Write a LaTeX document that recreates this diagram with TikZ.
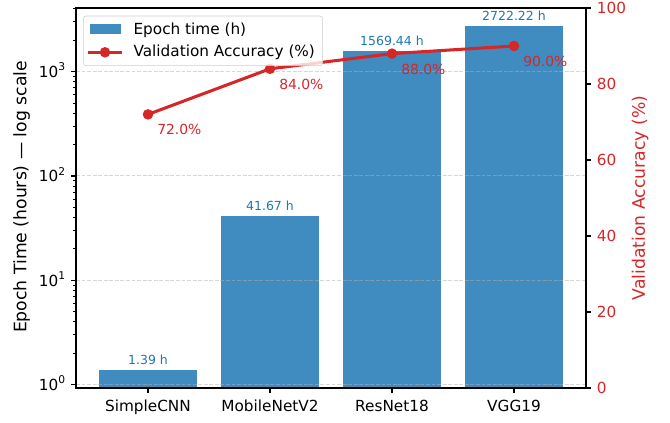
\documentclass[tikz,border=0pt]{standalone}
\usepackage{fontspec}
\setmainfont{DejaVu Sans}
\definecolor{barblue}{RGB}{31,119,180}
\definecolor{accred}{RGB}{214,39,40}
\definecolor{gridgray}{RGB}{176,176,176}
\tikzset{
  bar/.style={fill=barblue,fill opacity=0.85},
  gridline/.style={gridgray,draw opacity=0.5,line width=0.6pt,dash pattern=on 2.8pt off 1.2pt},
  spine/.style={line width=0.88pt},
  majtick/.style={line width=0.88pt},
  mintick/.style={line width=0.66pt},
  accline/.style={accred,line width=2.2pt},
  ticklabel/.style={inner sep=0pt,font=\fontsize{11}{13}\selectfont},
  barlabel/.style={inner sep=0pt,anchor=base,text=barblue,font=\fontsize{9}{11}\selectfont},
  acclabel/.style={inner sep=0pt,anchor=west,text=accred,font=\fontsize{10}{12}\selectfont},
  axislabel/.style={inner sep=0pt,rotate=90,font=\fontsize{12.4}{14}\selectfont}
}
\begin{document}
\begin{tikzpicture}[x=0.72pt,y=-0.72pt]
\useasboundingbox (0,0) rectangle (670,422);
% bars
\foreach \i/\c/\t/\v in {1/148/369.6/1.39,2/270/215.6/41.67,3/392/51.2/1569.44,4/514/26.2/2722.22}{
  \fill[bar] ({\c-48.8},388) rectangle ({\c+48.8},\t);
  \node[barlabel] (val\i) at (\c,{\t-5.5}) {\v\ h};
}
% grid
\foreach \y in {384.5,280.2,175.9,71.6}
  \draw[gridline] (76,\y) -- (586,\y);
% x axis
\foreach \i/\c/\n in {1/148/SimpleCNN,2/270/MobileNetV2,3/392/ResNet18,4/514/VGG19}{
  \draw[majtick] (\c,388) -- (\c,393.3);
  \node[ticklabel,anchor=base] (xl\i) at (\c,411) {\n};
}
% left log axis
\foreach \e/\y in {0/384.5,1/280.2,2/175.9,3/71.6}{
  \draw[majtick] (76,\y) -- (70.6,\y);
  \node[ticklabel,anchor=base east] (yl\e) at (65.5,{\y+6}) {10\raisebox{0.45em}{\fontsize{7.7}{9}\selectfont\e}};
}
\foreach \b in {384.5,280.2,175.9,71.6}
  \foreach \o in {31.4,49.8,62.8,72.9,81.2,88.1,94.2,99.5}{
    \pgfmathsetmacro\ym{\b-\o}
    \ifdim\ym pt>8pt \draw[mintick] (76,\ym) -- (72.9,\ym); \fi
  }
% right accuracy axis
\foreach \a in {0,20,...,100}{
  \draw[majtick] (586,{388-3.8*\a}) -- (591.4,{388-3.8*\a});
  \node[ticklabel,anchor=base west,text=accred] (yr\a) at (596.7,{388-3.8*\a+5.6}) {\a};
}
\draw[spine] (76,8) rectangle (586,388);
\node[axislabel] (ylabL) at (21.5,197) {Epoch Time (hours) — log scale};
\node[axislabel,text=accred] (ylabR) at (640,198) {Validation Accuracy (\%)};
% accuracy line
\coordinate (acc1) at (148,114.4);
\coordinate (acc2) at (270,68.8);
\coordinate (acc3) at (392,53.6);
\coordinate (acc4) at (514,46.0);
\draw[accline] (acc1) -- (acc2) -- (acc3) -- (acc4);
\foreach \i/\p in {1/72.0,2/84.0,3/88.0,4/90.0}{
  \fill[accred] (acc\i) circle (3.8pt);
  \node[acclabel] (pct\i) at ([shift={(9,15.5)}]acc\i) {\p\%};
}
% legend
\draw[rounded corners=2pt,draw=black!20,fill=white,fill opacity=0.8] (83.3,16) rectangle (322.7,65.7);
\fill[bar] (90,23.5) rectangle (120.7,33.5);
\node[ticklabel,anchor=base west] (legE) at (133.3,34.4) {Epoch time (h)};
\coordinate (legL) at (88,52.3);
\coordinate (legR) at (122,52.3);
\draw[accline] (legL) -- (legR);
\fill[accred] (105,52.3) circle (3.8pt);
\node[ticklabel,anchor=base west] (legV) at (133.3,56.8) {Validation Accuracy (\%)};
\end{tikzpicture}
\end{document}
